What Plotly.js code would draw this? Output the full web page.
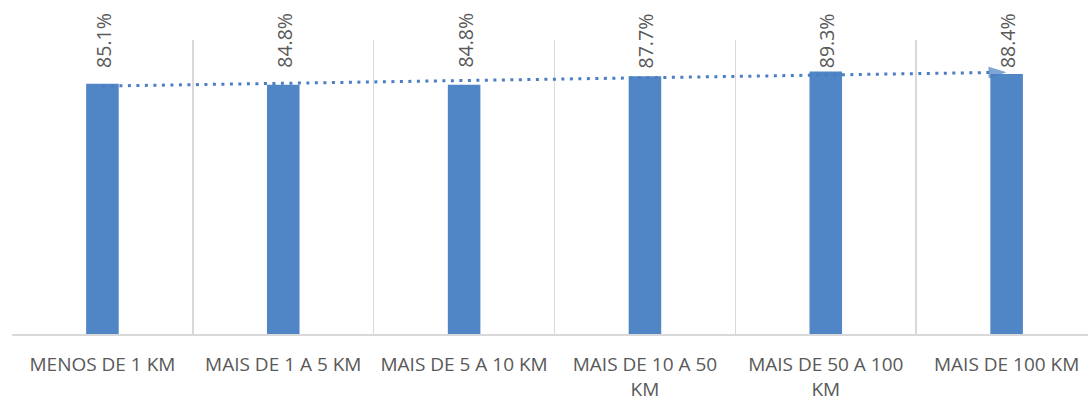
<!DOCTYPE html>
<html>
<head>
<meta charset="utf-8">
<script src="https://cdn.plot.ly/plotly-3.0.1.min.js"></script>
<style>
  html, body { margin: 0; padding: 0; background: #ffffff; }
  #chart { width: 1088px; height: 396px; }
</style>
</head>
<body>
<div id="chart"></div>
<script>
const categories = ['MENOS DE 1 KM', 'MAIS DE 1 A 5 KM', 'MAIS DE 5 A 10 KM', 'MAIS DE 10 A 50 KM', 'MAIS DE 50 A 100 KM', 'MAIS DE 100 KM'];
const tickLabels = ['MENOS DE 1 KM', 'MAIS DE 1 A 5 KM', 'MAIS DE 5 A 10 KM', 'MAIS DE 10 A 50<br>KM', 'MAIS DE 50 A 100<br>KM', 'MAIS DE 100 KM'];
const values = [85.1, 84.8, 84.8, 87.7, 89.3, 88.4];

// Linear trendline (least squares over category index), as in the original chart
const n = values.length;
const xs = values.map((_, i) => i + 1);
const mx = xs.reduce((a, b) => a + b, 0) / n;
const my = values.reduce((a, b) => a + b, 0) / n;
let sxy = 0, sxx = 0;
for (let i = 0; i < n; i++) { sxy += (xs[i] - mx) * (values[i] - my); sxx += (xs[i] - mx) ** 2; }
const slope = sxy / sxx;
const intercept = my - slope * mx;
const trendY = [intercept + slope * xs[0], intercept + slope * xs[n - 1]];

const barColor = '#5085c6';
const trendColor = '#4a7dc2';
const textColor = '#595959';
const fontFamily = '"Open Sans", "Liberation Sans", sans-serif';

const bars = {
  type: 'bar',
  x: categories,
  y: values,
  width: 0.18,
  marker: { color: barColor },
  hoverinfo: 'skip'
};

const trend = {
  type: 'scatter',
  mode: 'lines+markers',
  x: [categories[0], categories[n - 1]],
  y: trendY,
  line: { color: trendColor, width: 3, dash: '3px,5.5px' },
  marker: { symbol: 'arrow', size: [0, 19], angleref: 'previous', color: trendColor, line: { width: 0 } },
  hoverinfo: 'skip'
};

const annotations = categories.map((c, i) => ({
  x: c,
  y: 0.898,
  xref: 'x',
  yref: 'paper',
  text: values[i].toFixed(1) + '%',
  textangle: -90,
  yanchor: 'bottom',
  xanchor: 'center',
  xshift: 1,
  showarrow: false,
  font: { family: fontFamily, size: 19.5, color: textColor }
}));

const layout = {
  width: 1088,
  height: 396,
  margin: { l: 12, r: 0, t: 40, b: 62 },
  paper_bgcolor: '#ffffff',
  plot_bgcolor: '#ffffff',
  showlegend: false,
  font: { family: fontFamily, color: textColor },
  xaxis: {
    type: 'category',
    range: [-0.5, 5.45],
    tickson: 'boundaries',
    tickvals: categories,
    ticktext: tickLabels,
    ticks: '',
    ticklabelstandoff: 13,
    showgrid: true,
    gridcolor: '#d9d9d9',
    gridwidth: 1.6,
    showline: true,
    linecolor: '#d9d9d9',
    linewidth: 1.6,
    tickfont: { family: fontFamily, size: 19, color: textColor },
    fixedrange: true
  },
  yaxis: {
    range: [0, 100],
    visible: false,
    showgrid: false,
    zeroline: false,
    fixedrange: true
  },
  annotations: annotations
};

Plotly.newPlot('chart', [bars, trend], layout, { staticPlot: true, displayModeBar: false });
</script>
</body>
</html>
